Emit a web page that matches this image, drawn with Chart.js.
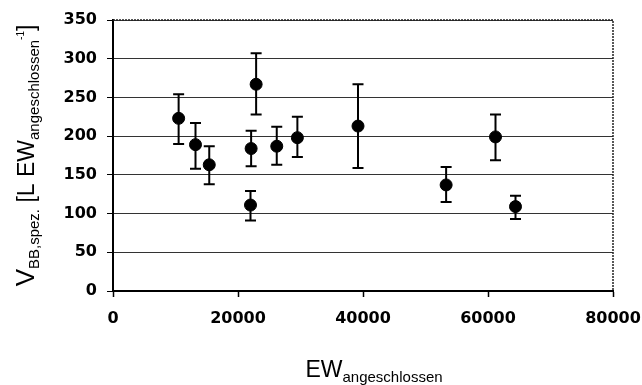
<!DOCTYPE html>
<html>
<head>
<meta charset="utf-8">
<script src="https://cdn.jsdelivr.net/npm/chart.js@4"></script>
<style>
  html, body { margin: 0; padding: 0; background: #fff; }
</style>
</head>
<body>
<canvas id="chart" width="642" height="385"></canvas>
<script>
// values
const ewValues = [10500, 13200, 15400, 22000, 22100, 22900, 26200, 29500, 39200, 53300, 61200, 64400];
const vValues = [223, 189, 163, 111, 184, 267, 187, 198, 213, 137, 199, 109];
const vUpper = [254, 217, 187, 129, 207, 307, 212, 225, 267, 160, 228, 123];
const vLower = [190, 158, 138, 91, 161, 228, 163, 173, 159, 115, 169, 93];

const xTicks = [0, 20000, 40000, 60000, 80000];
const yTicks = [0, 50, 100, 150, 200, 250, 300, 350];

const titleFont = "'Liberation Sans', Arial, sans-serif";

// error bars, drawn through the scales
const errorBars = {
  id: 'errorBars',
  beforeDatasetsDraw(chart) {
    const ctx = chart.ctx;
    const xs = chart.scales.x, ys = chart.scales.y;
    ctx.save();
    ctx.strokeStyle = '#000';
    ctx.lineWidth = 2;
    ewValues.forEach((ew, i) => {
      const px = xs.getPixelForValue(ew);
      const top = ys.getPixelForValue(vUpper[i]);
      const bot = ys.getPixelForValue(vLower[i]);
      ctx.beginPath();
      ctx.moveTo(px, top); ctx.lineTo(px, bot);
      ctx.moveTo(px - 5.5, top); ctx.lineTo(px + 5.5, top);
      ctx.moveTo(px - 5.5, bot); ctx.lineTo(px + 5.5, bot);
      ctx.stroke();
    });
    ctx.restore();
  }
};

// frame (top + right) and axis titles with sub/superscripts
function richWidth(ctx, parts) {
  let w = 0;
  parts.forEach(p => { ctx.font = p.size + 'px ' + titleFont; w += ctx.measureText(p.t).width; });
  return w;
}
function drawRich(ctx, parts, x, y) {
  parts.forEach(p => {
    ctx.font = p.size + 'px ' + titleFont;
    ctx.fillText(p.t, x, y + p.dy);
    x += ctx.measureText(p.t).width;
  });
}

const titles = {
  id: 'titles',
  afterDraw(chart) {
    const ctx = chart.ctx;
    const a = chart.chartArea;
    ctx.save();
    ctx.strokeStyle = '#222';
    ctx.lineWidth = 1.5;
    ctx.setLineDash([2, 1]);
    ctx.beginPath();
    ctx.moveTo(a.left, a.top); ctx.lineTo(a.right, a.top); ctx.lineTo(a.right, a.bottom);
    ctx.stroke();
    ctx.setLineDash([]);

    ctx.fillStyle = '#000';
    ctx.textBaseline = 'alphabetic';
    ctx.textAlign = 'left';

    const xParts = [
      { t: 'EW', size: 23, dy: 0 },
      { t: 'angeschlossen', size: 15, dy: 5 }
    ];
    const xw = richWidth(ctx, xParts);
    drawRich(ctx, xParts, 374 - xw / 2, 377);

    const yParts = [
      { t: 'V', size: 26, dy: 0 },
      { t: 'BB,spez.', size: 15, dy: 5 },
      { t: ' [L EW', size: 23, dy: 0 },
      { t: 'angeschlossen', size: 15, dy: 5 },
      { t: '-1', size: 10, dy: -10 },
      { t: ']', size: 23, dy: 0 }
    ];
    const yw = richWidth(ctx, yParts);
    ctx.translate(34, (a.top + a.bottom) / 2 + yw / 2);
    ctx.rotate(-Math.PI / 2);
    drawRich(ctx, yParts, 0, 0);
    ctx.restore();
  }
};

const tickFont = { family: "'DejaVu Sans', sans-serif", size: 16, weight: 'bold' };

new Chart(document.getElementById('chart'), {
  type: 'scatter',
  data: {
    datasets: [{
      data: ewValues.map((x, i) => ({ x: x, y: vValues[i] })),
      backgroundColor: '#000',
      borderColor: '#000',
      pointRadius: 6,
      pointHoverRadius: 6
    }]
  },
  options: {
    responsive: false,
    animation: false,
    layout: { padding: { top: 20, right: 29, left: 0, bottom: 0 } },
    plugins: { legend: { display: false }, tooltip: { enabled: false } },
    scales: {
      x: {
        type: 'linear',
        min: xTicks[0],
        max: xTicks[xTicks.length - 1],
        afterBuildTicks: s => { s.ticks = xTicks.map(v => ({ value: v })); },
        afterFit: s => { s.height = 94; s.paddingLeft = 0; s.paddingRight = 0; },
        ticks: { font: tickFont, color: '#000', padding: 12, maxRotation: 0, callback: v => String(v) },
        grid: { color: 'transparent', tickColor: '#000', tickLength: 6, tickWidth: 1.5 },
        border: { color: '#000', width: 2 }
      },
      y: {
        min: yTicks[0],
        max: yTicks[yTicks.length - 1],
        afterBuildTicks: s => { s.ticks = yTicks.map(v => ({ value: v })); },
        afterFit: s => { s.width = 113; s.paddingTop = 0; s.paddingBottom = 0; },
        ticks: { font: tickFont, color: '#000', padding: 10, callback: v => String(v) },
        grid: { color: '#333', lineWidth: 1, tickColor: '#000', tickLength: 6 },
        border: { color: '#000', width: 2 }
      }
    }
  },
  plugins: [errorBars, titles]
});
</script>
</body>
</html>
